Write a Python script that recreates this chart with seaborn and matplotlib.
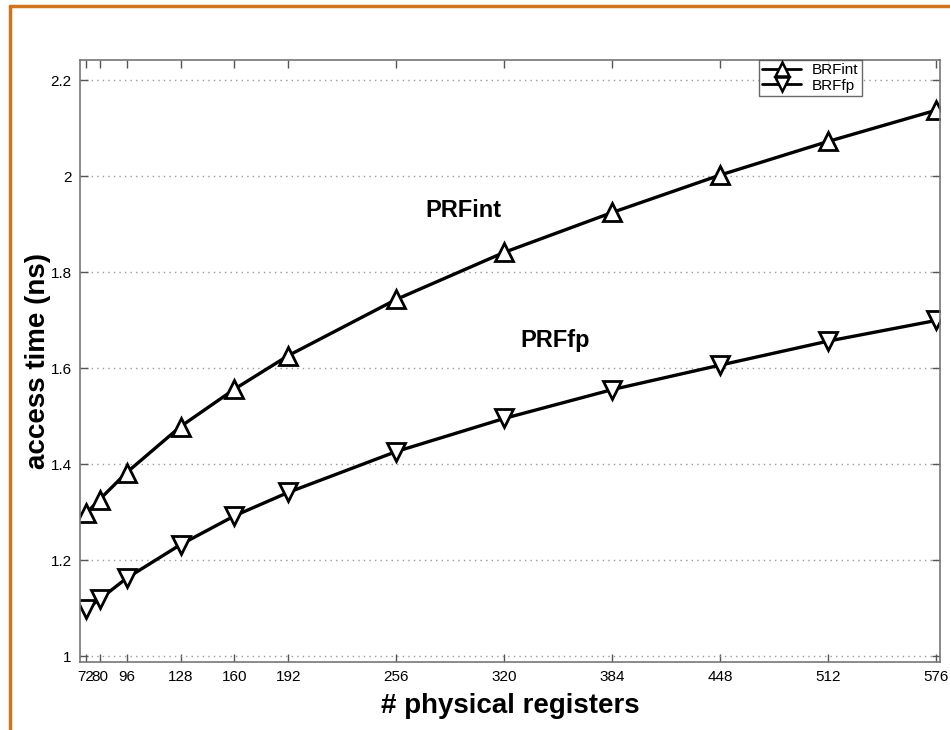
import matplotlib
matplotlib.use("Agg")
import matplotlib.pyplot as plt
import seaborn as sns
import pandas as pd
from matplotlib.lines import Line2D

registers = [72, 80, 96, 128, 160, 192, 256, 320, 384, 448, 512, 576]
prf_int = [1.297, 1.326, 1.382, 1.478, 1.556, 1.626, 1.743, 1.841, 1.924, 2.002, 2.072, 2.137]
prf_fp = [1.097, 1.118, 1.162, 1.232, 1.292, 1.341, 1.426, 1.495, 1.555, 1.606, 1.656, 1.699]
series_names = ["BRFint", "BRFfp"]
x_ticks = [72, 80, 96, 128, 160, 192, 256, 320, 384, 448, 512, 576]
y_ticks = [1.0, 1.2, 1.4, 1.6, 1.8, 2.0, 2.2]
y_tick_labels = ["1", "1.2", "1.4", "1.6", "1.8", "2", "2.2"]

df = pd.DataFrame({
    "registers": registers * 2,
    "time": prf_int + prf_fp,
    "series": [series_names[0]] * len(registers) + [series_names[1]] * len(registers),
})

sns.set_theme(style="white")
plt.rcParams['font.family'] = ['Liberation Sans', 'DejaVu Sans']
plt.rcParams['text.color'] = 'black'
plt.rcParams['axes.labelcolor'] = 'black'
plt.rcParams['xtick.color'] = 'black'
plt.rcParams['ytick.color'] = 'black'

fig = plt.figure(figsize=(9.5, 7.3), dpi=100)
ax = fig.add_axes([80/950, 1 - 662/730, 860/950, 602/730])

sns.lineplot(data=df, x="registers", y="time", hue="series", style="series",
             markers={"BRFint": "^", "BRFfp": "v"}, dashes=False,
             palette={"BRFint": "black", "BRFfp": "black"},
             markersize=13, markerfacecolor="white", markeredgecolor="black",
             markeredgewidth=2.0, linewidth=2.4, ax=ax, legend=False)

ax.set_xlim(68.4, 578.4)
ax.set_ylim(0.9875, 2.2417)
ax.set_xticks(x_ticks)
ax.set_xticklabels([str(t) for t in x_ticks], fontsize=11)
ax.set_yticks(y_ticks)
ax.set_yticklabels(y_tick_labels, fontsize=11)
ax.tick_params(direction="in", length=6, width=1, color="#555555", labelcolor="black",
               top=True, right=True, bottom=True, left=True, pad=6)
ax.grid(axis="y", linestyle=(0, (1, 3)), color="#999999", linewidth=1)
ax.grid(axis="x", visible=False)
for s in ax.spines.values():
    s.set_color("#777777")
    s.set_linewidth(1.2)

ax.set_xlabel("# physical registers", fontsize=20, fontweight="bold", labelpad=6, color="black")
ax.set_ylabel("access time (ns)", fontsize=20, fontweight="bold", labelpad=0, color="black")

ax.text(296, 1.929, "PRFint", fontsize=17, fontweight="bold", ha="center", va="center",
        color="black")
ax.text(350, 1.658, "PRFfp", fontsize=17, fontweight="bold", ha="center", va="center",
        color="black")

handles = [
    Line2D([], [], color="black", marker="^", markersize=10, markerfacecolor="white",
           markeredgewidth=1.8, linewidth=2),
    Line2D([], [], color="black", marker="v", markersize=10, markerfacecolor="white",
           markeredgewidth=1.8, linewidth=2),
]
leg = ax.legend(handles, series_names, loc="upper right", bbox_to_anchor=(0.909, 1.0),
                fontsize=11, frameon=True, fancybox=False, borderaxespad=0,
                handlelength=2.6, borderpad=0.2, labelspacing=0.1, handletextpad=0.7)
leg.get_frame().set_edgecolor("#444444")
leg.get_frame().set_linewidth(1)

# slide frame (orange border)
orange = "#d0731f"
fig.add_artist(Line2D([10/950, 1], [1 - 6/730, 1 - 6/730], color=orange, linewidth=2.5))
fig.add_artist(Line2D([10/950, 10/950], [0, 1 - 6/730], color=orange, linewidth=2.5))

fig.savefig("out.png", dpi=100)
